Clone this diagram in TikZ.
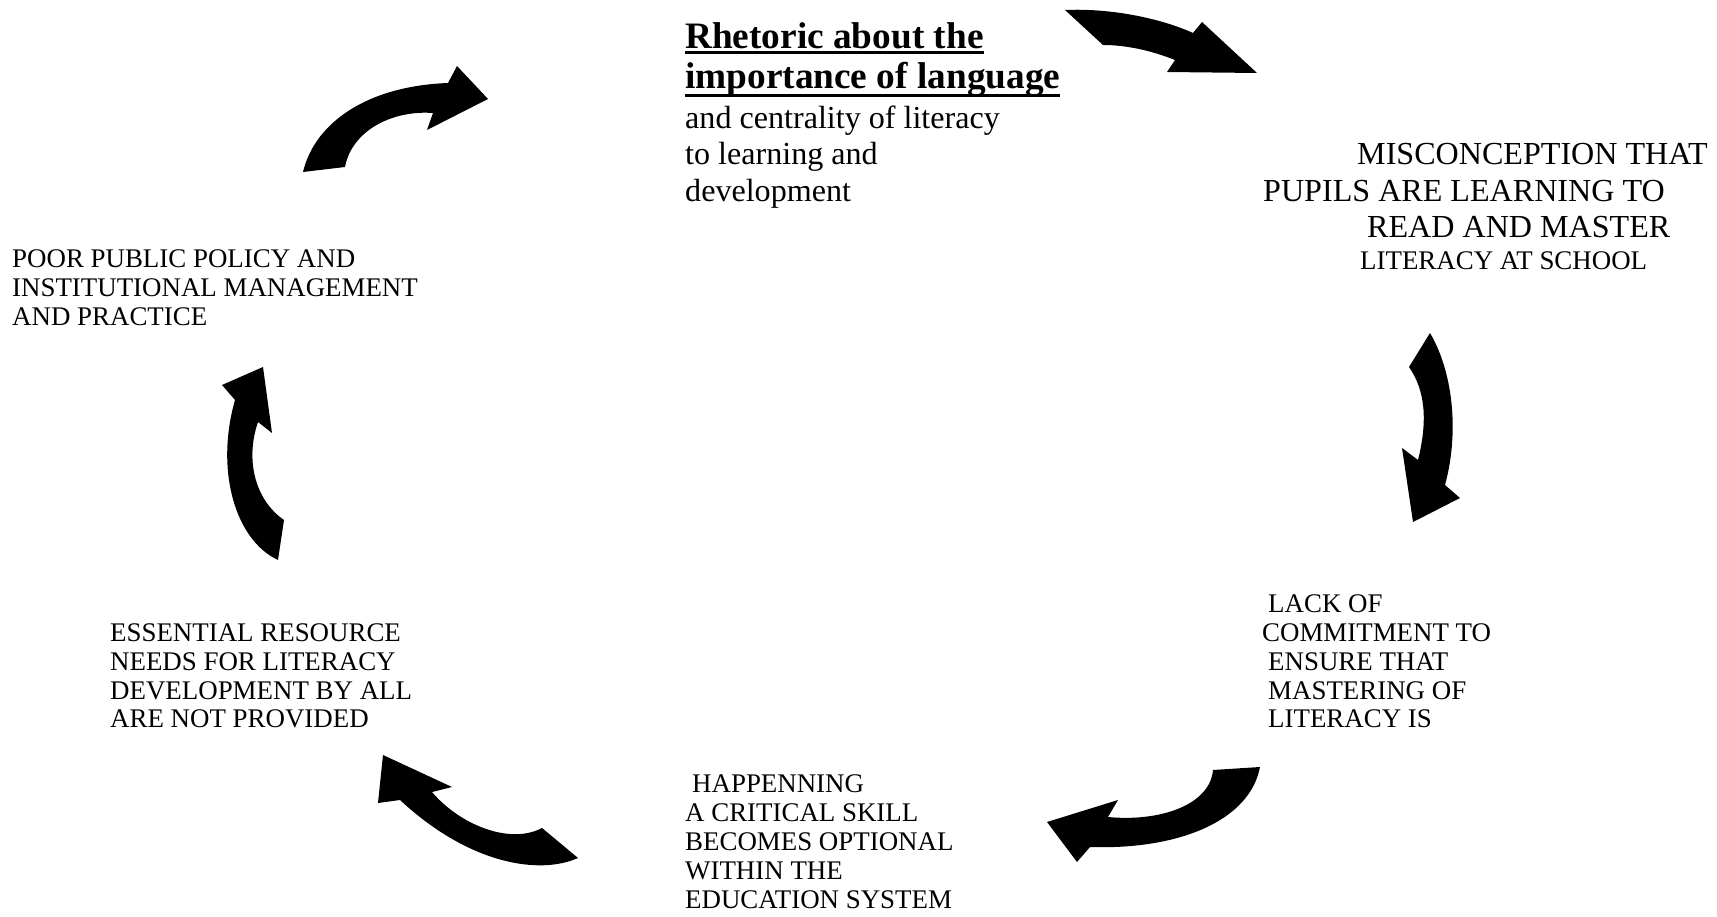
\documentclass[tikz,border=0pt]{standalone}
\usepackage{fontspec}
\setmainfont{Liberation Serif}
\begin{document}
\begin{tikzpicture}[x=1pt,y=-1pt,
  lbl/.style={anchor=base west, inner sep=0pt, font=\fontsize{26.9}{29}\selectfont},
  big/.style={anchor=base west, inner sep=0pt, font=\fontsize{32.1}{36}\selectfont},
  hd/.style={anchor=base west, inner sep=0pt, font=\bfseries\fontsize{37.3}{37}\selectfont},
  ul/.style={line width=3pt},
  blockarrow/.style={fill=black}]
\fill[white] (0,0) rectangle (1717,917);
\useasboundingbox (0,0) rectangle (1717,917);

% Top text block
\node[hd] (r1) at (685,49) {Rhetoric about the};
\node[hd] (r2) at (685,89) {importance of language};
\draw[ul] ([yshift=-4pt]r1.base west) -- ([yshift=-4pt]r1.base east);
\draw[ul] ([yshift=-7pt]r2.base west) -- ([yshift=-7pt]r2.base east);
\node[big] (r3) at (685,129) {and centrality of literacy};
\node[big] (r4) at (685,165) {to learning and};
\node[big] (r5) at (685,202) {development};

% Right top block
\node[big] (m1) at (1357,165) {MISCONCEPTION THAT};
\node[big] (m2) at (1263,202) {PUPILS ARE LEARNING TO};
\node[big] (m3) at (1367,238) {READ AND MASTER};
\node[lbl] (m4) at (1360,270) {LITERACY AT SCHOOL};

% Left top block
\node[lbl] (p1) at (12,268) {POOR PUBLIC POLICY AND};
\node[lbl] (p2) at (12,297) {INSTITUTIONAL MANAGEMENT};
\node[lbl] (p3) at (12,326) {AND PRACTICE};

% Left bottom block
\node[lbl] (e1) at (110,641) {ESSENTIAL RESOURCE};
\node[lbl] (e2) at (110,670) {NEEDS FOR LITERACY};
\node[lbl] (e3) at (110,699) {DEVELOPMENT BY ALL};
\node[lbl] (e4) at (110,727) {ARE NOT PROVIDED};

% Right bottom block
\node[lbl] (l1) at (1268,612) {LACK OF};
\node[lbl] (l2) at (1262,641) {COMMITMENT TO};
\node[lbl] (l3) at (1268,670) {ENSURE THAT};
\node[lbl] (l4) at (1268,699) {MASTERING OF};
\node[lbl] (l5) at (1268,727) {LITERACY IS};

% Bottom block
\node[lbl] (h1) at (692,792) {HAPPENNING};
\node[lbl] (h2) at (685,821) {A CRITICAL SKILL};
\node[lbl] (h3) at (685,850) {BECOMES OPTIONAL};
\node[lbl] (h4) at (685,879) {WITHIN THE};
\node[lbl] (h5) at (685,908) {EDUCATION SYSTEM};

% Block arrows
% top-left
\fill[blockarrow] (303,172) .. controls (315,122) and (368,86) .. (448,83) -- (457,66) -- (488,99) -- (427,130) -- (433,113) .. controls (393,110) and (352,130) .. (345,167) -- cycle;
% top-right
\fill[blockarrow] (1065,10) .. controls (1110,8) and (1160,18) .. (1193,33) -- (1202,22) -- (1257,73) -- (1167,72) -- (1175,60) .. controls (1150,50) and (1125,45) .. (1103,45) -- cycle;
% right
\fill[blockarrow] (1430,333) .. controls (1452,370) and (1460,430) .. (1445,485) -- (1460,498) -- (1413,522) -- (1402,448) -- (1418,460) .. controls (1428,420) and (1425,390) .. (1409,367) -- cycle;
% bottom-right
\fill[blockarrow] (1260,767) .. controls (1250,820) and (1180,850) .. (1090,847) -- (1077,862) -- (1047,822) -- (1118,800) -- (1108,817) .. controls (1160,822) and (1210,805) .. (1213,770) -- cycle;
% bottom-left
\fill[blockarrow] (578,858) .. controls (540,875) and (470,865) .. (400,800) -- (378,803) -- (383,755) -- (452,787) -- (432,792) .. controls (460,825) and (510,845) .. (542,828) -- cycle;
% left
\fill[blockarrow] (278,560) .. controls (235,540) and (215,470) .. (235,400) -- (222,385) -- (263,367) -- (272,433) -- (258,422) .. controls (245,460) and (255,500) .. (284,520) -- cycle;
\end{tikzpicture}
\end{document}
